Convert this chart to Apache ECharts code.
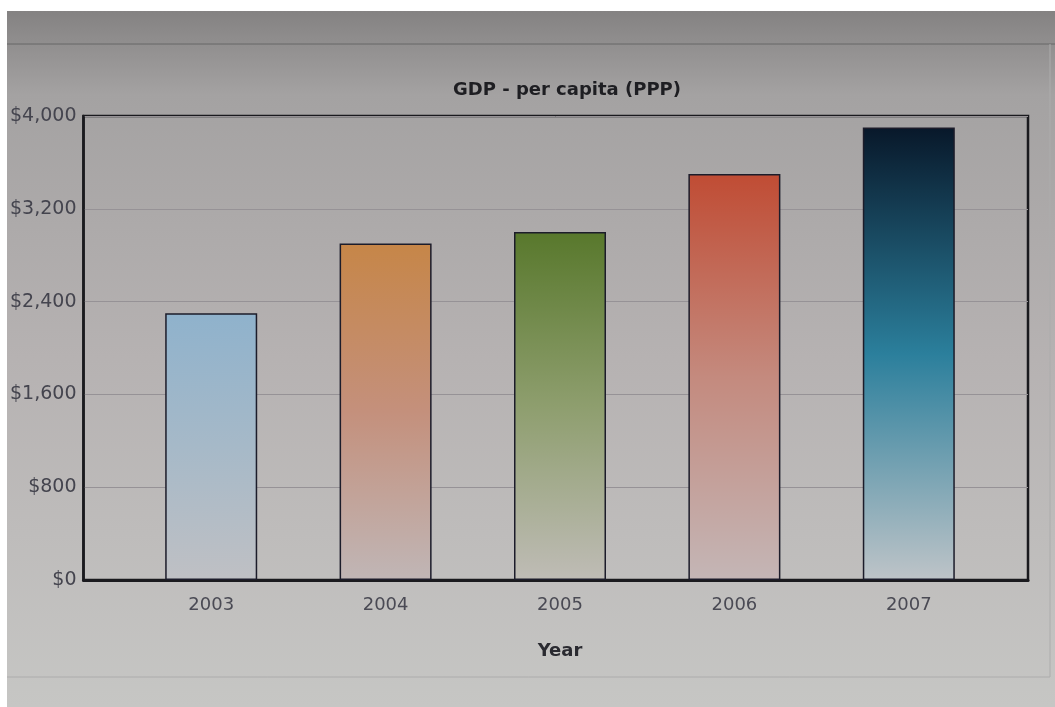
<!DOCTYPE html>
<html>
<head>
<meta charset="utf-8">
<script src="https://cdn.jsdelivr.net/npm/echarts@6/dist/echarts.min.js"></script>
<style>
html,body{margin:0;padding:0;background:#ffffff;}
#chart{position:absolute;left:7px;top:11px;width:1048px;height:696px;}
</style>
</head>
<body>
<div id="chart"></div>
<script>
const categories = ['2003', '2004', '2005', '2006', '2007'];
const gdpPerCapita = [2300, 2900, 3000, 3500, 3900];
const yTicks = [0, 800, 1600, 2400, 3200, 4000];

const barGradients = [
  ['#8fb2cc', '#a6b9c8', '#bfc0c4'],
  ['#c68648', '#c4907c', '#c0b6b6'],
  ['#58782c', '#8e9e6e', '#bfbcb6'],
  ['#c04c34', '#c48a7e', '#c4b6b6'],
  ['#08182a', '#2b7f9c', '#bec4c8']
];

const chart = echarts.init(document.getElementById('chart'));
const fontFam = '"DejaVu Sans", Verdana, sans-serif';

chart.setOption({
  backgroundColor: {
    type: 'linear', x: 0, y: 0, x2: 0, y2: 1,
    colorStops: [
      {offset: 0, color: '#848282'},
      {offset: 0.12, color: '#a4a2a2'},
      {offset: 0.5, color: '#b6b2b2'},
      {offset: 1, color: '#c6c6c4'}
    ]
  },
  animation: false,
  title: {
    text: 'GDP - per capita (PPP)',
    left: 555, top: 65, textAlign: 'center',
    textStyle: {fontFamily: fontFam, fontSize: 18, fontWeight: 'bold', color: '#1e1e22'}
  },
  graphic: [{
    type: 'line',
    shape: {x1: 0, y1: 33, x2: 1048, y2: 33},
    style: {stroke: '#666666', lineWidth: 1}
  }, {
    type: 'line',
    shape: {x1: 0, y1: 666, x2: 1043, y2: 666},
    style: {stroke: '#acacac', lineWidth: 1}
  }, {
    type: 'line',
    shape: {x1: 1043, y1: 33, x2: 1043, y2: 666},
    style: {stroke: '#acacac', lineWidth: 1}
  }],
  grid: [
    {left: 76, right: 27, top: 105, bottom: 127, show: true, borderColor: '#1a1a1e', borderWidth: 2.5, backgroundColor: 'rgba(0,0,0,0)'},
    {left: 117, right: 59, top: 105, bottom: 127}
  ],
  xAxis: [{
    gridIndex: 0, type: 'value', min: 0, max: 1, show: true,
    axisLine: {show: true, lineStyle: {color: '#1a1a1e', width: 3}},
    axisTick: {show: false}, axisLabel: {show: false}, splitLine: {show: false}
  }, {
    gridIndex: 1, type: 'category', data: categories,
    name: 'Year', nameLocation: 'middle', nameGap: 62,
    nameTextStyle: {fontFamily: fontFam, fontSize: 18, fontWeight: 'bold', color: '#2a2a30'},
    axisLine: {show: false}, axisTick: {show: false},
    axisLabel: {fontFamily: fontFam, fontSize: 18, color: '#4a4a54', margin: 16}
  }],
  yAxis: [{
    gridIndex: 0, type: 'value', min: yTicks[0], max: yTicks[yTicks.length - 1], interval: yTicks[1] - yTicks[0],
    axisLine: {show: true, lineStyle: {color: '#1a1a1e', width: 2.5}},
    axisTick: {show: false},
    axisLabel: {
      fontFamily: fontFam, fontSize: 19, color: '#44444e', margin: 7,
      formatter: v => '$' + v.toLocaleString('en-US')
    },
    splitLine: {show: true, lineStyle: {color: '#969296', width: 1}}
  }, {
    gridIndex: 1, type: 'value', min: yTicks[0], max: yTicks[yTicks.length - 1], show: false
  }],
  series: [{
    type: 'bar',
    xAxisIndex: 1, yAxisIndex: 1,
    barWidth: 92,
    data: gdpPerCapita.map((v, i) => ({
      value: v,
      itemStyle: {
        color: {
          type: 'linear', x: 0, y: 0, x2: 0, y2: 1,
          colorStops: [
            {offset: 0, color: barGradients[i][0]},
            {offset: 0.5, color: barGradients[i][1]},
            {offset: 1, color: barGradients[i][2]}
          ]
        },
        borderColor: '#1c1c2a', borderWidth: 1.5
      }
    }))
  }]
});
</script>
</body>
</html>
